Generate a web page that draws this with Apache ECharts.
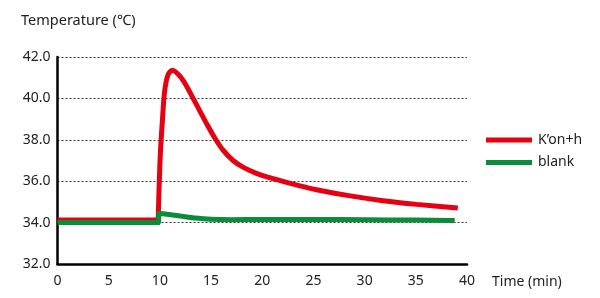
<!DOCTYPE html>
<html>
<head>
<meta charset="utf-8">
<script src="https://cdn.jsdelivr.net/npm/echarts@6/dist/echarts.min.js"></script>
<style>html,body{margin:0;padding:0;background:#fff}#c{width:600px;height:298px}</style>
</head>
<body>
<div id="c"></div>
<script>
const seriesNames = ['K\u2019on+h', 'blank'];
const xTicks = [0, 5, 10, 15, 20, 25, 30, 35, 40];
const yTicks = [32.0, 34.0, 36.0, 38.0, 40.0, 42.0];
const konTime = [0, 9.7, 9.8, 9.91, 10.04, 10.24, 10.46, 10.79, 11.22, 12.0, 12.6, 13.2, 13.9, 14.6, 15.35, 16.17, 17.15, 18.12, 19.43, 20.73, 22.03, 23.5, 25.3, 28.6, 31.8, 35.1, 39.1];
const konTemp = [34.12, 34.12, 34.12, 35.49, 37.27, 38.87, 40.32, 41.13, 41.36, 41.05, 40.6, 40.05, 39.4, 38.75, 38.1, 37.5, 37.0, 36.68, 36.38, 36.17, 35.99, 35.80, 35.59, 35.29, 35.06, 34.88, 34.70];
const blankTime = [0, 9.75, 9.85, 9.95, 10.5, 12.0, 13.5, 15.0, 17.0, 20.0, 25.0, 30.0, 35.0, 38.8];
const blankTemp = [34.0, 34.0, 34.0, 34.45, 34.42, 34.32, 34.22, 34.16, 34.14, 34.15, 34.15, 34.14, 34.12, 34.1];

const zip = (a, b) => a.map((v, i) => [v, b[i]]);
const FONT = 'Noto Sans';
const chart = echarts.init(document.getElementById('c'));
chart.setOption({
  animation: false,
  title: [
    { text: 'Temperature (\u2103)', left: 16, top: 8, textStyle: { fontFamily: FONT, fontSize: 14.5, fontWeight: 'normal', color: '#222' } },
    { text: 'Time (min)', left: 487, top: 270, textStyle: { fontFamily: FONT, fontSize: 14, fontWeight: 'normal', color: '#222' } }
  ],
  legend: {
    orient: 'vertical', left: 481, top: 128,
    icon: 'rect', itemWidth: 46, itemHeight: 5, itemGap: 8.5,
    textStyle: { fontFamily: FONT, fontSize: 14, color: '#222', padding: [0, 0, 0, 1] },
    data: seriesNames
  },
  grid: { left: 57.5, right: 133, top: 57, bottom: 34 },
  xAxis: {
    type: 'value', min: xTicks[0], max: xTicks[xTicks.length - 1], interval: 5,
    axisLine: { lineStyle: { color: '#000', width: 2.5 } },
    axisTick: { show: false },
    splitLine: { show: false },
    axisLabel: { margin: 10, fontFamily: FONT, fontSize: 14, color: '#222' }
  },
  yAxis: {
    type: 'value', min: yTicks[0], max: yTicks[yTicks.length - 1], interval: 2,
    axisLine: { show: true, lineStyle: { color: '#000', width: 2.5 } },
    axisTick: { show: false },
    splitLine: { show: true, lineStyle: { color: '#333', width: 1, type: [2, 2] } },
    axisLabel: { margin: 7, fontFamily: FONT, fontSize: 14, color: '#222', formatter: v => v.toFixed(1) }
  },
  series: [
    { name: seriesNames[0], type: 'line', data: zip(konTime, konTemp), showSymbol: false, smooth: 0.3,
      lineStyle: { color: '#e50012', width: 5 }, itemStyle: { color: '#e50012' }, z: 2 },
    { name: seriesNames[1], type: 'line', data: zip(blankTime, blankTemp), showSymbol: false, smooth: 0.3,
      lineStyle: { color: '#0b8c3a', width: 5 }, itemStyle: { color: '#0b8c3a' }, z: 3 }
  ]
});
</script>
</body>
</html>
